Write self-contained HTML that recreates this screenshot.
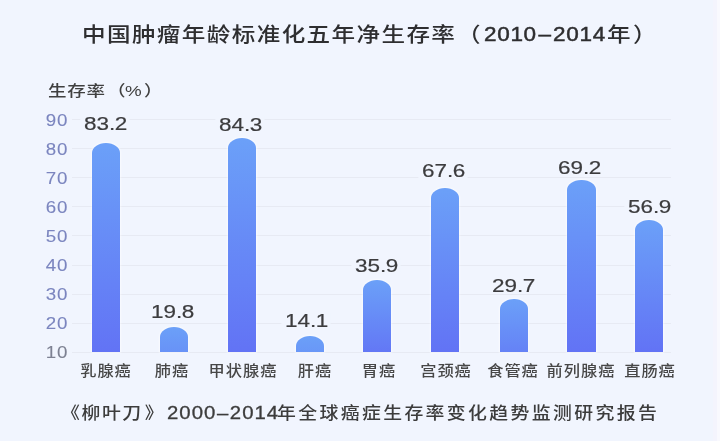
<!DOCTYPE html>
<html lang="zh-CN">
<head>
<meta charset="utf-8">
<style>
html,body{margin:0;padding:0;}
body{width:720px;height:441px;overflow:hidden;background:#f1f5fe;position:relative;
  font-family:"Liberation Sans","Noto Sans CJK SC",sans-serif;}
#wrap{position:absolute;left:0;top:0;width:720px;height:441px;background:#f1f5fe;filter:blur(0.4px);}
.a{position:absolute;white-space:nowrap;line-height:1;}
.t{top:25px;font-size:20.5px;letter-spacing:1.2px;color:#2e2e30;font-weight:500;transform-origin:0 0;transform:scaleX(1.15);}
.t.d{font-size:19.4px;letter-spacing:0.6px;top:25.30px;font-weight:400;-webkit-text-stroke:0.45px #2e2e30;transform:scaleX(1.16);}
.yl{top:82.6px;font-size:15.2px;letter-spacing:0.62px;color:#404040;font-weight:500;transform-origin:0 0;transform:scaleX(1.22);}
.yl.pc{font-size:14px;top:83.90px;transform-origin:0 50%;transform:scaleX(1.34);}
.tick{font-size:16px;letter-spacing:0.6px;color:#7b85bf;transform-origin:100% 50%;transform:scaleX(1.17);-webkit-text-stroke:0.1px #7b85bf;}
.grid{position:absolute;left:72px;width:599px;height:1px;background:#e7eaf3;}
.bar{position:absolute;width:28.2px;box-shadow:0 0 2px 1px rgba(255,255,255,0.55);border-radius:14.1px 14.1px 0 0 / 10px 10px 0 0;}
.val{font-size:18.3px;letter-spacing:0px;color:#3c3c3e;-webkit-text-stroke:0.2px #3c3c3e;background:#f1f5fe;padding:1.5px 2px 0 3px;line-height:0.72;}
.dash{margin:0 1.2px 0 1.4px;}
.pd{letter-spacing:-0.5px;}
.cat{font-size:14.5px;letter-spacing:0.86px;color:#474747;font-weight:500;width:100px;text-align:center;top:364px;transform:scaleX(1.12);}
.cp{top:405.5px;font-size:16.7px;letter-spacing:2.1px;color:#3c3c3c;font-weight:500;transform-origin:0 0;transform:scaleX(1.13);}
.cp.cd{top:403.90px;font-size:18px;letter-spacing:0.9px;font-weight:400;-webkit-text-stroke:0.3px #3c3c3c;transform:scaleX(1.13);}
.dash2{margin:0 0.5px 0 0.5px;}
</style>
</head>
<body>
<div id="wrap">
<div class="a t" style="left:82px">中国肿瘤年龄标准化五年净生存率</div><div class="a t" style="left:457px">（</div><div class="a t d" style="left:483.5px">2010<span class="dash">–</span>2014</div><div class="a t" style="left:607.2px">年</div><div class="a t" style="left:632.5px">）</div>
<div class="a yl" style="left:48px">生存率</div><div class="a yl" style="left:107px">（</div><div class="a yl pc" style="left:125.3px">%</div><div class="a yl" style="left:144px">）</div>

<div class="grid" style="top:118.6px"></div>
<div class="grid" style="top:147.8px"></div>
<div class="grid" style="top:177.0px"></div>
<div class="grid" style="top:206.2px"></div>
<div class="grid" style="top:235.4px"></div>
<div class="grid" style="top:264.6px"></div>
<div class="grid" style="top:293.8px"></div>
<div class="grid" style="top:323.0px"></div>
<div class="grid" style="top:352.2px"></div>
<div class="a tick" style="right:652.0px;top:113.2px">90</div>
<div class="a tick" style="right:652.0px;top:142.2px">80</div>
<div class="a tick" style="right:652.0px;top:171.2px">70</div>
<div class="a tick" style="right:652.0px;top:200.2px">60</div>
<div class="a tick" style="right:652.0px;top:229.2px">50</div>
<div class="a tick" style="right:652.0px;top:258.2px">40</div>
<div class="a tick" style="right:652.0px;top:287.2px">30</div>
<div class="a tick" style="right:652.0px;top:316.2px">20</div>
<div class="a tick" style="right:652.0px;top:345.2px;color:#7d8192;-webkit-text-stroke-color:#7d8192">10</div>
<div class="bar" style="left:91.7px;top:142.6px;height:209.7px;background:linear-gradient(180deg,#6ba0f8 0px,#6273f5 210px)"></div>
<div class="bar" style="left:159.6px;top:326.8px;height:25.5px;background:linear-gradient(180deg,#6ba0f8 0px,#6273f5 80px)"></div>
<div class="bar" style="left:227.5px;top:138.3px;height:214.0px;background:linear-gradient(180deg,#6ba0f8 0px,#6273f5 214px)"></div>
<div class="bar" style="left:295.5px;top:336.3px;height:16.0px;background:linear-gradient(180deg,#6ba0f8 0px,#6273f5 80px)"></div>
<div class="bar" style="left:363.3px;top:280.0px;height:72.3px;background:linear-gradient(180deg,#6ba0f8 0px,#6273f5 80px)"></div>
<div class="bar" style="left:431.3px;top:187.8px;height:164.5px;background:linear-gradient(180deg,#6ba0f8 0px,#6273f5 164px)"></div>
<div class="bar" style="left:499.8px;top:298.8px;height:53.5px;background:linear-gradient(180deg,#6ba0f8 0px,#6273f5 80px)"></div>
<div class="bar" style="left:567.4px;top:180.1px;height:172.2px;background:linear-gradient(180deg,#6ba0f8 0px,#6273f5 172px)"></div>
<div class="bar" style="left:634.7px;top:219.9px;height:132.4px;background:linear-gradient(180deg,#6ba0f8 0px,#6273f5 132px)"></div>
<div class="a val" style="left:104.70px;top:115.57px;transform:translateX(-50%) scaleX(1.23)">83<span class="pd">.</span>2</div>
<div class="a val" style="left:172.00px;top:303.87px;transform:translateX(-50%) scaleX(1.23)">19<span class="pd">.</span>8</div>
<div class="a val" style="left:239.70px;top:116.17px;transform:translateX(-50%) scaleX(1.23)">84<span class="pd">.</span>3</div>
<div class="a val" style="left:306.40px;top:312.67px;transform:translateX(-50%) scaleX(1.23)">14<span class="pd">.</span>1</div>
<div class="a val" style="left:376.00px;top:257.57px;transform:translateX(-50%) scaleX(1.23)">35<span class="pd">.</span>9</div>
<div class="a val" style="left:443.40px;top:162.87px;transform:translateX(-50%) scaleX(1.23)">67<span class="pd">.</span>6</div>
<div class="a val" style="left:513.40px;top:277.17px;transform:translateX(-50%) scaleX(1.23)">29<span class="pd">.</span>7</div>
<div class="a val" style="left:579.20px;top:159.87px;transform:translateX(-50%) scaleX(1.23)">69<span class="pd">.</span>2</div>
<div class="a val" style="left:648.50px;top:198.17px;transform:translateX(-50%) scaleX(1.23)">56<span class="pd">.</span>9</div>
<div class="a cat" style="left:56.3px">乳腺癌</div>
<div class="a cat" style="left:121.6px">肺癌</div>
<div class="a cat" style="left:192.6px">甲状腺癌</div>
<div class="a cat" style="left:264.9px">肝癌</div>
<div class="a cat" style="left:329.4px">胃癌</div>
<div class="a cat" style="left:396.1px">宫颈癌</div>
<div class="a cat" style="left:463.2px">食管癌</div>
<div class="a cat" style="left:531.4px">前列腺癌</div>
<div class="a cat" style="left:599.8px">直肠癌</div>
<div class="a cp" style="left:60.5px;letter-spacing:1.4px">《柳叶刀<span style="margin-left:1.8px">》</span></div><div class="a cp cd" style="left:167px">2000<span class="dash2">–</span>2014</div><div class="a cp" style="left:277px">年全球癌症生存率变化趋势监测研究报告</div>
<div style="position:absolute;left:713px;top:0;width:4px;height:441px;background:#f4f4fd"></div><div style="position:absolute;left:717px;top:0;width:3px;height:441px;background:#f9f9fe"></div>
</div>
</body>
</html>
